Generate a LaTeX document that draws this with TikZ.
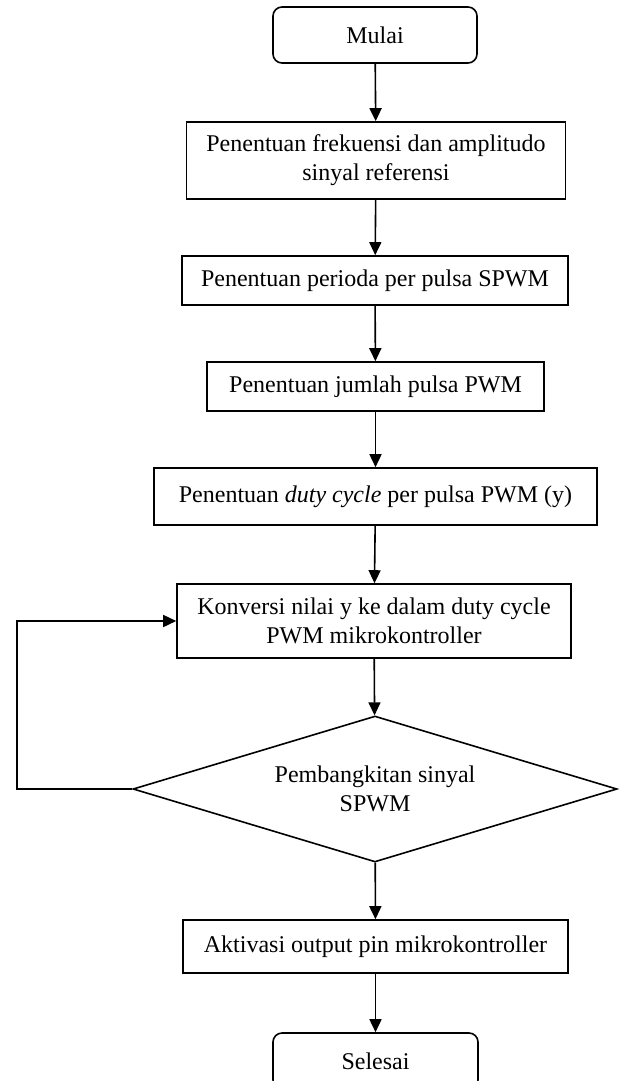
\documentclass[tikz,border=0pt]{standalone}
\usepackage{fontspec}
\setmainfont{Liberation Serif}
\usetikzlibrary{arrows.meta,shapes.geometric}
\tikzset{
    box/.style={draw,line width=1.6pt,rectangle,inner sep=0pt,align=center},
    terminal/.style={box,rounded corners=9pt},
    decision/.style={draw,line width=1.6pt,diamond,inner sep=0pt,align=center,aspect=3.3},
    arr/.style={-{Triangle[length=13pt,width=12pt]},line width=1.6pt},
}
\tikzstyle{every node}=[font=\fontsize{24}{29}\selectfont]

\begin{document}
\begin{tikzpicture}[x=1pt,y=-1pt]
        \useasboundingbox (0,0) rectangle (622,1081);
        \node[terminal,minimum width=204pt,minimum height=56pt] (mulai) at (375,35) {Mulai};
        \node[box,minimum width=379pt,minimum height=77pt] (frekuensi) at (376,160.5) {Penentuan frekuensi dan amplitudo\\sinyal referensi};
        \node[box,minimum width=386pt,minimum height=49pt] (perioda) at (375,280.5) {Penentuan perioda per pulsa SPWM};
        \node[box,minimum width=337pt,minimum height=49pt] (jumlah) at (375.5,386.5) {Penentuan jumlah pulsa PWM};
        \node[box,minimum width=443pt,minimum height=57pt] (duty) at (375.5,496.5) {Penentuan \textit{duty cycle} per pulsa PWM (y)};
        \node[box,minimum width=394pt,minimum height=74pt] (konversi) at (374,621) {Konversi nilai y ke dalam duty cycle\\PWM mikrokontroller};
        \node[decision,minimum width=484pt,minimum height=146pt] (bangkit) at (375,789) {Pembangkitan sinyal\\SPWM};
        \node[box,minimum width=385pt,minimum height=53pt] (aktivasi) at (375.5,946.5) {Aktivasi output pin mikrokontroller};
        \node[terminal,minimum width=205pt,minimum height=56pt] (selesai) at (375.5,1061) {Selesai};
        \coordinate (balik) at (17,789);

        \draw[arr] (mulai) -- (frekuensi);
        \draw[arr] (frekuensi) -- (perioda);
        \draw[arr] (perioda) -- (jumlah);
        \draw[arr] (jumlah) -- (duty);
        \draw[arr] (duty) -- (konversi);
        \draw[arr] (konversi) -- (bangkit);
        \draw[arr] (bangkit) -- (aktivasi);
        \draw[arr] (aktivasi) -- (selesai);
        \draw[arr] (bangkit.west) -- (balik) |- (konversi.west);
    \end{tikzpicture}
\end{document}
